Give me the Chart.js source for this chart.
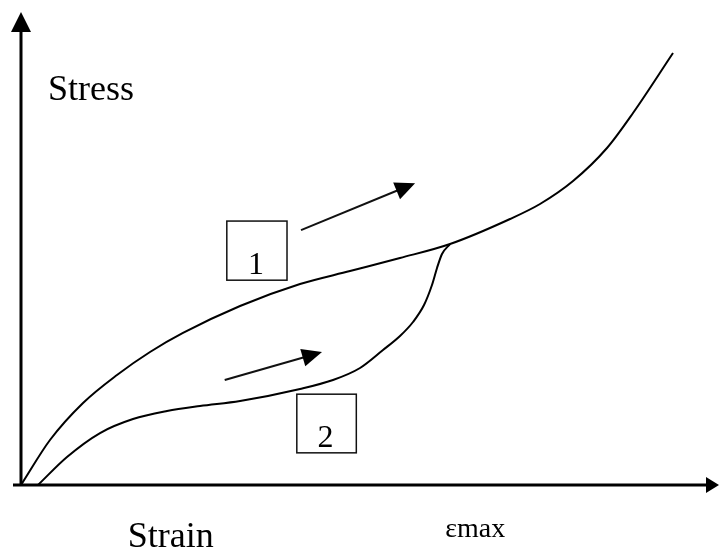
<!DOCTYPE html>
<html>
<head>
<meta charset="utf-8">
<script src="https://cdn.jsdelivr.net/npm/chart.js@4/dist/chart.umd.min.js"></script>
<style>
  html, body { margin: 0; padding: 0; background: #fff; }
  #wrap { width: 719px; height: 554px; }
</style>
</head>
<body>
<div id="wrap"><canvas id="chart"></canvas></div>
<script>
// curve 1: first loading
const strainLoading = [0, 4.14, 8.86, 13.71, 18.43, 23.14, 31.29, 39.86, 47.0, 54.14, 61.29, 69.86, 74.14, 78.86, 83.71, 87.43, 93.14];
const stressLoading = [0, 9.51, 17.34, 23.26, 28.12, 32.14, 37.84, 42.49, 45.24, 47.99, 50.95, 56.24, 59.41, 64.27, 71.25, 78.65, 91.33];

// curve 2: reloading after the cycle, joins curve 1 at strain max
const strainReload = [2.43, 6.57, 11.29, 16.0, 20.86, 25.57, 31.29, 39.86, 44.57, 48.43, 51.71, 54.14, 56.0, 57.57, 58.71, 59.43, 60.14, 61.29];
const stressReload = [0, 5.92, 10.99, 13.95, 15.64, 16.70, 17.76, 20.30, 22.20, 24.74, 28.54, 31.50, 34.46, 38.05, 42.28, 45.88, 48.84, 50.95];

// axis texts
const xAxisLabels = ['Strain', 'εmax'];
const xAxisLabelAt = [21.4, 64.9];
const yAxisLabel = 'Stress';

// numbered boxes and direction arrows, in data units
const boxes = [
  { label: '1', x0: 29.4, x1: 38.0, y0: 43.3, y1: 55.8 },
  { label: '2', x0: 39.4, x1: 47.9, y0: 6.8, y1: 19.2 }
];
const arrows = [
  { from: [40.0, 53.9], to: [56.3, 63.8] },
  { from: [29.1, 22.2], to: [43.0, 28.1] }
];

const serif = '"Liberation Serif", "Times New Roman", serif';

function arrowHead(ctx, x0, y0, x1, y1, len, half) {
  const a = Math.atan2(y1 - y0, x1 - x0);
  ctx.beginPath();
  ctx.moveTo(x1, y1);
  ctx.lineTo(x1 - len * Math.cos(a) + half * Math.sin(a), y1 - len * Math.sin(a) - half * Math.cos(a));
  ctx.lineTo(x1 - len * Math.cos(a) - half * Math.sin(a), y1 - len * Math.sin(a) + half * Math.cos(a));
  ctx.closePath();
  ctx.fill();
}

const sketch = {
  id: 'sketch',
  beforeDatasetsDraw(chart) {
    const { ctx, chartArea: a } = chart;
    ctx.save();
    ctx.strokeStyle = '#000';
    ctx.fillStyle = '#000';
    ctx.lineWidth = 3;
    // x axis
    ctx.beginPath();
    ctx.moveTo(a.left - 8, a.bottom);
    ctx.lineTo(a.right - 10, a.bottom);
    ctx.stroke();
    arrowHead(ctx, a.left, a.bottom, a.right, a.bottom, 13, 8);
    // y axis
    ctx.beginPath();
    ctx.moveTo(a.left, a.bottom + 1);
    ctx.lineTo(a.left, a.top + 15);
    ctx.stroke();
    arrowHead(ctx, a.left, a.bottom, a.left, a.top, 20, 10);
    ctx.restore();
  },
  afterDatasetsDraw(chart) {
    const { ctx, scales: { x, y }, chartArea: a } = chart;
    ctx.save();
    ctx.fillStyle = '#000';
    ctx.strokeStyle = '#000';

    // boxes
    boxes.forEach(b => {
      const l = x.getPixelForValue(b.x0), r = x.getPixelForValue(b.x1);
      const t = y.getPixelForValue(b.y1), btm = y.getPixelForValue(b.y0);
      ctx.fillStyle = '#fff';
      ctx.fillRect(l, t, r - l, btm - t);
      ctx.lineWidth = 1.5;
      ctx.strokeStyle = '#111';
      ctx.strokeRect(l, t, r - l, btm - t);
      ctx.fillStyle = '#000';
      ctx.font = '32px ' + serif;
      ctx.textAlign = 'center';
      ctx.textBaseline = 'alphabetic';
      ctx.fillText(b.label, (l + r) / 2 - 1, btm - 6);
    });

    // arrows
    arrows.forEach(ar => {
      const x0 = x.getPixelForValue(ar.from[0]), y0 = y.getPixelForValue(ar.from[1]);
      const x1 = x.getPixelForValue(ar.to[0]), y1 = y.getPixelForValue(ar.to[1]);
      const ang = Math.atan2(y1 - y0, x1 - x0);
      ctx.lineWidth = 2;
      ctx.beginPath();
      ctx.moveTo(x0, y0);
      ctx.lineTo(x1 - 14 * Math.cos(ang), y1 - 14 * Math.sin(ang));
      ctx.stroke();
      arrowHead(ctx, x0, y0, x1, y1, 20, 9);
    });

    // texts
    ctx.textAlign = 'left';
    ctx.textBaseline = 'alphabetic';
    ctx.font = '36px ' + serif;
    ctx.fillText(yAxisLabel, a.left + 27, a.top + 88);
    ctx.textAlign = 'center';
    xAxisLabels.forEach((t, i) => {
      const px = x.getPixelForValue(xAxisLabelAt[i]);
      if (i === 0) {
        ctx.font = '36px ' + serif;
        ctx.fillText(t, px, a.bottom + 62);
      } else {
        ctx.font = '28px ' + serif;
        ctx.fillText(t, px, a.bottom + 52);
      }
    });
    ctx.restore();
  }
};

const toPoints = (xs, ys) => xs.map((v, i) => ({ x: v, y: ys[i] }));

new Chart(document.getElementById('chart'), {
  type: 'line',
  data: {
    datasets: [
      {
        label: 'Loading',
        data: toPoints(strainLoading, stressLoading),
        borderColor: '#000',
        borderWidth: 2,
        pointRadius: 0,
        cubicInterpolationMode: 'monotone',
        clip: false
      },
      {
        label: 'Reloading',
        data: toPoints(strainReload, stressReload),
        borderColor: '#000',
        borderWidth: 2,
        pointRadius: 0,
        cubicInterpolationMode: 'monotone',
        clip: false
      }
    ]
  },
  options: {
    responsive: true,
    maintainAspectRatio: false,
    animation: false,
    layout: { padding: { left: 21, top: 12, right: 0, bottom: 69 } },
    plugins: { legend: { display: false }, tooltip: { enabled: false } },
    scales: {
      x: { type: 'linear', min: 0, max: 99.71, display: false },
      y: { type: 'linear', min: 0, max: 100, display: false }
    }
  },
  plugins: [sketch]
});
</script>
</body>
</html>
